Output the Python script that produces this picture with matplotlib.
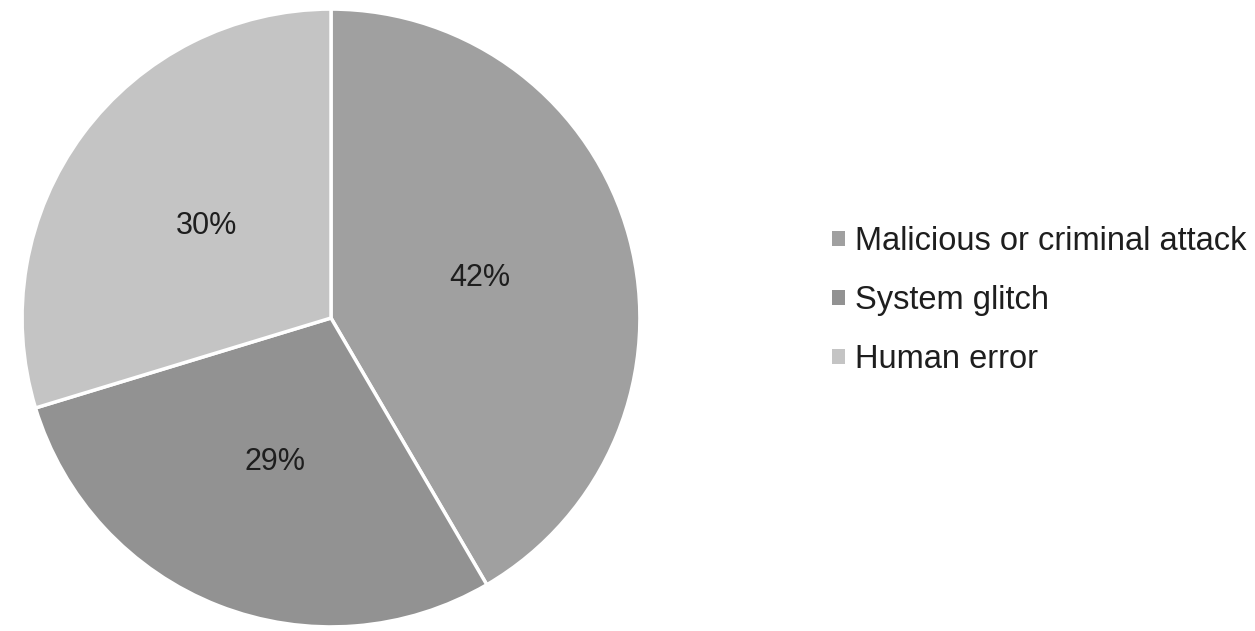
import matplotlib.pyplot as plt
from matplotlib.patches import Patch

# causes of data breach, share in percent
causes = ["Malicious or criminal attack", "System glitch", "Human error"]
shares = [42, 29, 30]
colors = ["#a0a0a0", "#929292", "#c4c4c4"]

plt.rcParams["font.family"] = ["Liberation Sans", "DejaVu Sans"]

W, H = 1255, 631
fig = plt.figure(figsize=(W / 100, H / 100), dpi=100)

# pie axes placed in pixels: centre (331, 318), radius 312
cx, cy, r = 331, 318, 312
ax = fig.add_axes([(cx - r) / W, (H - cy - r) / H, 2 * r / W, 2 * r / H])

total = sum(shares)
wedges, texts, autotexts = ax.pie(
    shares,
    colors=colors,
    startangle=90,
    counterclock=False,
    radius=1.0,
    pctdistance=0.5,
    autopct=lambda p: f"{p * total / 100:.0f}%",
    wedgeprops=dict(edgecolor="white", linewidth=2.5),
    textprops=dict(fontsize=22, color="#1e1e1e"),
)
ax.set_xlim(-1.01, 1.01)
ax.set_ylim(-1.01, 1.01)

handles = [Patch(facecolor=c, edgecolor="none") for c in colors]
fig.legend(
    handles, causes,
    loc="upper left",
    bbox_to_anchor=(832 / W, 1 - 226 / H),
    frameon=False,
    borderpad=0,
    borderaxespad=0,
    fontsize=23.5,
    handlelength=0.4,
    handleheight=0.35,
    handletextpad=0.3,
    labelspacing=0.86,
    labelcolor="#1e1e1e",
)

fig.savefig("out.png", dpi=100, facecolor="white")
